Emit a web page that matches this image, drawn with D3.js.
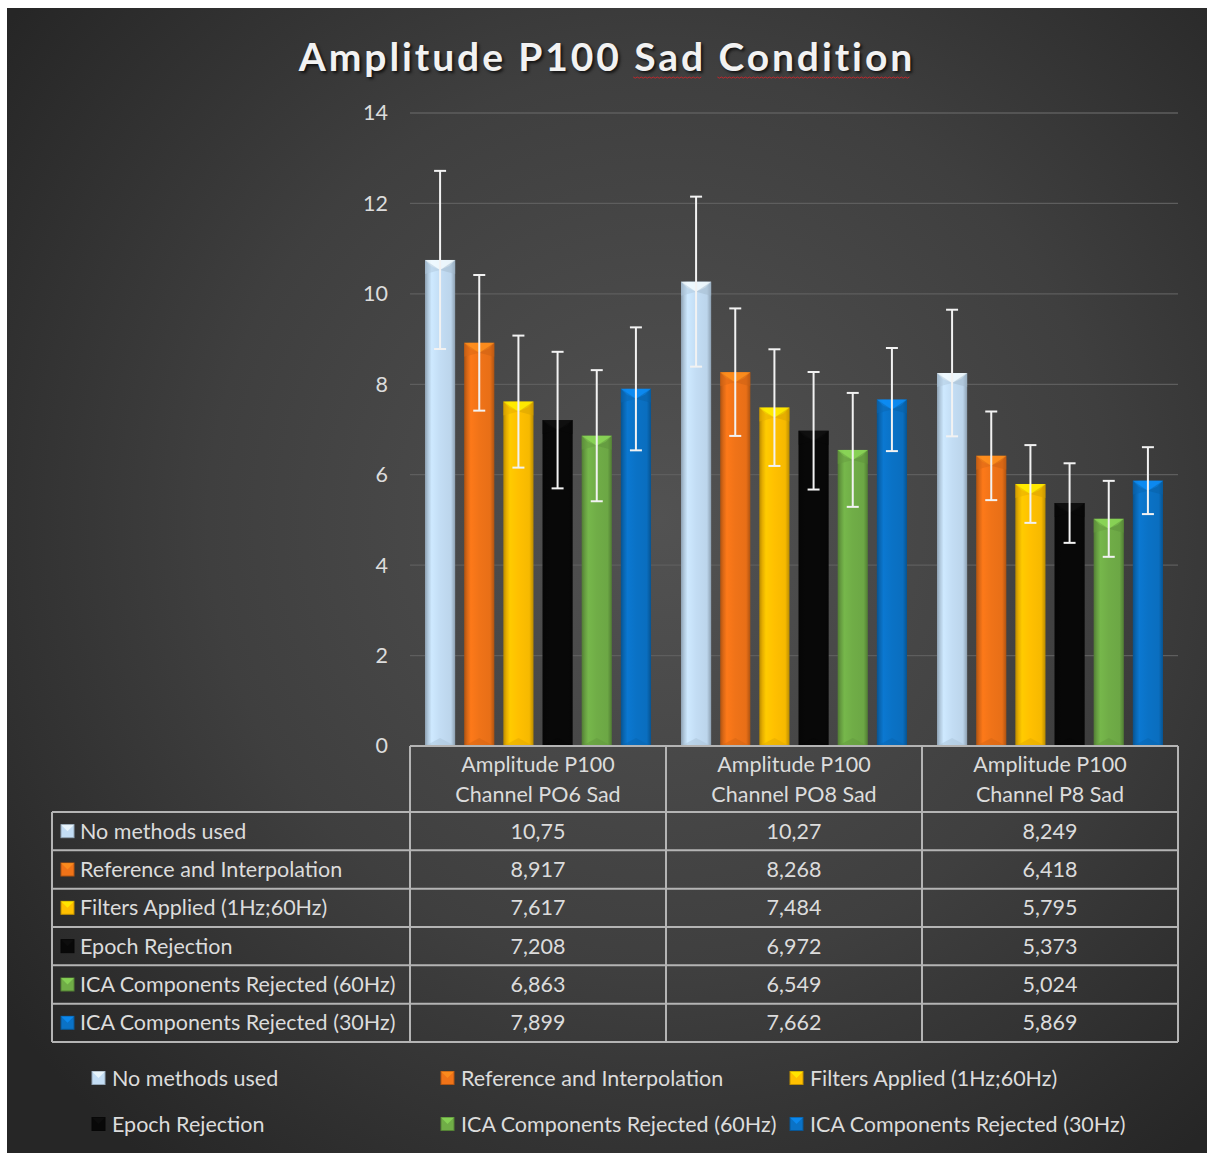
<!DOCTYPE html>
<html>
<head>
<meta charset="utf-8">
<script src="https://cdn.jsdelivr.net/npm/d3@7"></script>
<style>
  html, body { margin: 0; padding: 0; background: #ffffff; }
  svg { display: block; }
  text { font-family: Lato, "Open Sans", sans-serif; }
</style>
</head>
<body>
<svg id="chart" width="1207" height="1153"></svg>
<script>
// Channels (x-axis categories), each shown on two lines in the table header
const categories = ["PO6", "PO8", "P8"];
const categoryLines = [
  ["Amplitude P100", "Channel PO6 Sad"],
  ["Amplitude P100", "Channel PO8 Sad"],
  ["Amplitude P100", "Channel P8 Sad"]
];

// Processing steps (series)
const seriesNames = [
  "No methods used",
  "Reference and Interpolation",
  "Filters Applied (1Hz;60Hz)",
  "Epoch Rejection",
  "ICA Components Rejected (60Hz)",
  "ICA Components Rejected (30Hz)"
];
const seriesColors = ["#c3ddf4", "#f07318", "#ffc000", "#080808", "#70ad47", "#0a72c6"];

// Mean amplitude per series, one value per channel
const noMethods   = [10.75, 10.27, 8.249];
const refInterp   = [8.917, 8.268, 6.418];
const filters     = [7.617, 7.484, 5.795];
const epochRej    = [7.208, 6.972, 5.373];
const ica60       = [6.863, 6.549, 5.024];
const ica30       = [7.899, 7.662, 5.869];

// Error bar half-widths per series, one value per channel
const errNoMethods = [1.97, 1.88, 1.40];
const errRefInterp = [1.50, 1.41, 0.98];
const errFilters   = [1.46, 1.29, 0.86];
const errEpochRej  = [1.51, 1.30, 0.88];
const errIca60     = [1.45, 1.26, 0.84];
const errIca30     = [1.36, 1.14, 0.74];

// Displayed table strings (comma decimal)
const tableLabels = [
  ["10,75", "10,27", "8,249"],
  ["8,917", "8,268", "6,418"],
  ["7,617", "7,484", "5,795"],
  ["7,208", "6,972", "5,373"],
  ["6,863", "6,549", "5,024"],
  ["7,899", "7,662", "5,869"]
];

const yTicks = [0, 2, 4, 6, 8, 10, 12, 14];
const titleWords = ["Amplitude P100", "Sad", "Condition"];

const values = [noMethods, refInterp, filters, epochRej, ica60, ica30];
const errors = [errNoMethods, errRefInterp, errFilters, errEpochRej, errIca60, errIca30];

const rows = [];
seriesNames.forEach((s, si) => {
  categories.forEach((c, ci) => {
    rows.push({ series: s, si, cat: c, ci, value: values[si][ci], err: errors[si][ci] });
  });
});

const FONT = 21.5;
const TEXT_COL = "#dcdcdc";

const svg = d3.select("#chart");
const defs = svg.append("defs");

// Chart area background: dark radial gradient
const bg = defs.append("radialGradient").attr("id", "bgGrad")
  .attr("gradientUnits", "userSpaceOnUse")
  .attr("cx", 660).attr("cy", 520).attr("r", 820);
bg.append("stop").attr("offset", "0%").attr("stop-color", "#525252");
bg.append("stop").attr("offset", "55%").attr("stop-color", "#3f3f3f");
bg.append("stop").attr("offset", "100%").attr("stop-color", "#262626");

svg.append("rect").attr("x", 7).attr("y", 8).attr("width", 1200).attr("height", 1145)
  .attr("fill", "url(#bgGrad)");

// Bevel-style gradients for each series colour
seriesColors.forEach((col, i) => {
  const c = d3.color(col);
  const g = defs.append("linearGradient").attr("id", "bar" + i)
    .attr("x1", "0%").attr("x2", "100%").attr("y1", "0%").attr("y2", "0%");
  g.append("stop").attr("offset", "0%").attr("stop-color", c.darker(0.9));
  g.append("stop").attr("offset", "10%").attr("stop-color", c.darker(0.3));
  g.append("stop").attr("offset", "22%").attr("stop-color", c.brighter(0.15));
  g.append("stop").attr("offset", "50%").attr("stop-color", c);
  g.append("stop").attr("offset", "86%").attr("stop-color", c.darker(0.1));
  g.append("stop").attr("offset", "100%").attr("stop-color", c.darker(0.9));
});

const plot = { left: 410, right: 1178, top: 113, bottom: 746 };

const x0 = d3.scaleBand().domain(categories).range([plot.left, plot.right]).paddingInner(0);
const x1 = d3.scaleBand().domain(seriesNames)
  .range([15, x0.bandwidth() - 15]).paddingInner(0.23);
const y = d3.scaleLinear().domain([0, 14]).range([plot.bottom, plot.top]);

// Gridlines
svg.append("g").selectAll("line").data(yTicks.filter(t => t > 0)).join("line")
  .attr("x1", plot.left).attr("x2", plot.right)
  .attr("y1", d => y(d)).attr("y2", d => y(d))
  .attr("stroke", "#5e5e5e").attr("stroke-width", 1.3);

// Y axis labels
const yAxis = d3.axisLeft(y).tickValues(yTicks).tickSize(0).tickPadding(22);
const yG = svg.append("g").attr("transform", `translate(${plot.left},0)`).call(yAxis);
yG.select(".domain").remove();
yG.selectAll("text").attr("fill", TEXT_COL).attr("font-size", FONT)
  .style("font-family", "Lato, 'Open Sans', sans-serif");

// Title, with a spell-check style wavy underline under the last two words
const titleText = svg.append("text")
  .attr("x", 607).attr("y", 71).attr("text-anchor", "middle")
  .attr("font-size", 39).attr("font-weight", "bold").attr("letter-spacing", 2.9)
  .attr("fill", "#f2f2f2")
  .style("text-shadow", "2px 2px 3px rgba(0,0,0,0.7)");
const spans = titleWords.map((w, i) =>
  titleText.append("tspan").text((i ? " " : "") + w));
const tBox = titleText.node().getBBox();
let cursor = tBox.x;
spans.forEach((sp, i) => {
  const node = sp.node();
  const full = node.getComputedTextLength();
  if (i > 0) {
    const spaceW = full - (function () {
      const tmp = svg.append("text").attr("font-size", 39).attr("font-weight", "bold")
        .attr("letter-spacing", 2.9).text(titleWords[i]);
      const w = tmp.node().getComputedTextLength();
      tmp.remove();
      return w;
    })();
    const x0w = cursor + spaceW;
    const x1w = cursor + full - 3;
    const pts = d3.range(x0w, x1w, 2).map((px, k) => [px, 77 + (k % 2 ? 1.2 : 0)]);
    svg.append("path").attr("d", d3.line()(pts))
      .attr("fill", "none").attr("stroke", "#c0282d").attr("stroke-width", 1);
  }
  cursor += full;
});

// Bars
const barG = svg.append("g");
const bars = barG.selectAll("g.bar").data(rows).join("g").attr("class", "bar")
  .attr("transform", d => `translate(${x0(d.cat) + x1(d.series)},0)`);
const bw = x1.bandwidth();

bars.append("rect")
  .attr("x", 0).attr("y", d => y(d.value))
  .attr("width", bw).attr("height", d => y(0) - y(d.value))
  .attr("fill", d => `url(#bar${d.si})`);

// Top bevel facet (light chevron)
bars.append("path")
  .attr("d", d => {
    const t = y(d.value);
    return `M0,${t} L${bw},${t} L${bw - 6},${t + 6} L${bw / 2},${t + 10} L6,${t + 6} Z`;
  })
  .attr("fill", d => d3.color(seriesColors[d.si]).brighter(d.si === 3 ? 2.2 : 0.7))
  .attr("opacity", 0.75);
bars.append("path")
  .attr("d", d => {
    const t = y(d.value);
    return `M0,${t} L${bw / 2},${t + 10} L0,${t + 14} Z`;
  })
  .attr("fill", d => d3.color(seriesColors[d.si]).darker(0.3)).attr("opacity", 0.5);
bars.append("path")
  .attr("d", d => {
    const t = y(d.value);
    return `M${bw},${t} L${bw / 2},${t + 10} L${bw},${t + 14} Z`;
  })
  .attr("fill", d => d3.color(seriesColors[d.si]).darker(0.5)).attr("opacity", 0.5);

// Bottom bevel facet
bars.append("path")
  .attr("d", () => {
    const b = y(0);
    return `M0,${b} L${bw},${b} L${bw / 2},${b - 8} Z`;
  })
  .attr("fill", d => d3.color(seriesColors[d.si]).darker(0.4)).attr("opacity", 0.45);

// Error bars
const errG = svg.append("g").attr("stroke", "#f2f2f2").attr("stroke-width", 2);
const eb = errG.selectAll("g").data(rows).join("g")
  .attr("transform", d => `translate(${x0(d.cat) + x1(d.series) + bw / 2},0)`);
eb.append("line").attr("x1", 0).attr("x2", 0)
  .attr("y1", d => y(d.value + d.err)).attr("y2", d => y(d.value - d.err));
eb.append("line").attr("x1", -6).attr("x2", 6)
  .attr("y1", d => y(d.value + d.err)).attr("y2", d => y(d.value + d.err));
eb.append("line").attr("x1", -6).attr("x2", 6)
  .attr("y1", d => y(d.value - d.err)).attr("y2", d => y(d.value - d.err));

// Data table
const table = { left: 52, top: 746, headerH: 66, rowH: 38.33 };
const tableBottom = table.top + table.headerH + table.rowH * seriesNames.length;
const rowY = i => table.top + table.headerH + table.rowH * i;
const tg = svg.append("g");
const lineCol = "#b4b4b4";

// Horizontal rules
tg.append("line").attr("x1", plot.left).attr("x2", plot.right)
  .attr("y1", table.top).attr("y2", table.top).attr("stroke", lineCol).attr("stroke-width", 2);
tg.selectAll("line.hr").data(d3.range(seriesNames.length + 1)).join("line").attr("class", "hr")
  .attr("x1", table.left).attr("x2", plot.right)
  .attr("y1", i => rowY(i)).attr("y2", i => rowY(i))
  .attr("stroke", lineCol).attr("stroke-width", 2);
// Vertical rules
tg.append("line").attr("x1", table.left).attr("x2", table.left)
  .attr("y1", rowY(0)).attr("y2", tableBottom).attr("stroke", lineCol).attr("stroke-width", 2);
const colEdges = [plot.left, ...categories.map(c => x0(c) + x0.bandwidth())];
tg.selectAll("line.vr").data(colEdges).join("line").attr("class", "vr")
  .attr("x1", d => d).attr("x2", d => d)
  .attr("y1", table.top).attr("y2", tableBottom)
  .attr("stroke", lineCol).attr("stroke-width", 2);

// Header text
categories.forEach((c, ci) => {
  const t = tg.append("text").attr("x", x0(c) + x0.bandwidth() / 2).attr("text-anchor", "middle")
    .attr("fill", TEXT_COL).attr("font-size", FONT);
  categoryLines[ci].forEach((line, li) => {
    t.append("tspan").attr("x", x0(c) + x0.bandwidth() / 2)
      .attr("y", table.top + 26 + li * 30).text(line);
  });
});

// Swatch helper with bevel look
function swatch(g, x, yc, si) {
  const s = 13;
  const col = d3.color(seriesColors[si]);
  g.append("rect").attr("x", x).attr("y", yc - s / 2).attr("width", s).attr("height", s)
    .attr("fill", col).attr("stroke", col.darker(0.8)).attr("stroke-width", 1);
  g.append("path")
    .attr("d", `M${x},${yc - s / 2} L${x + s},${yc - s / 2} L${x + s / 2},${yc} Z`)
    .attr("fill", col.brighter(si === 3 ? 2 : 0.7)).attr("opacity", 0.7);
}

// Row labels and values
seriesNames.forEach((s, si) => {
  const yc = rowY(si) + table.rowH / 2;
  swatch(tg, 61, yc, si);
  tg.append("text").attr("x", 80).attr("y", yc).attr("dy", "0.35em")
    .attr("fill", TEXT_COL).attr("font-size", FONT).text(s);
  categories.forEach((c, ci) => {
    tg.append("text").attr("x", x0(c) + x0.bandwidth() / 2).attr("y", yc).attr("dy", "0.35em")
      .attr("text-anchor", "middle").attr("fill", TEXT_COL).attr("font-size", FONT)
      .text(tableLabels[si][ci]);
  });
});

// Legend
const legendCols = [92, 441, 790];
const legendRows = [1078, 1124];
const lg = svg.append("g");
seriesNames.forEach((s, si) => {
  const lx = legendCols[si % 3];
  const ly = legendRows[Math.floor(si / 3)];
  swatch(lg, lx, ly, si);
  lg.append("text").attr("x", lx + 20).attr("y", ly).attr("dy", "0.35em")
    .attr("fill", TEXT_COL).attr("font-size", FONT).text(s);
});
</script>
</body>
</html>
